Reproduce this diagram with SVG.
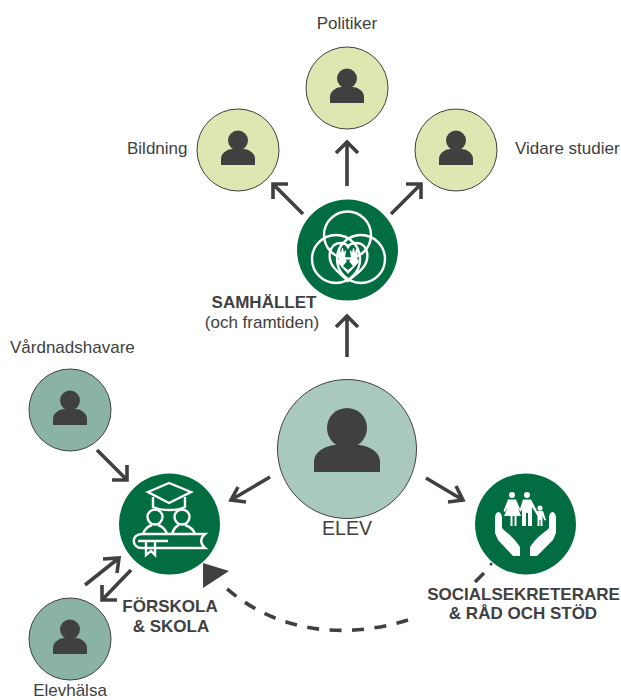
<svg xmlns="http://www.w3.org/2000/svg" width="621" height="700" viewBox="0 0 621 700">
<defs>
<g id="person"><circle cx="0" cy="-9.500" r="10"/><path d="M-17 15 V9 C-17 2 -9 -1 -6 -1 H6 C9 -1 17 2 17 9 V15 Z"/></g>
<g id="bigperson"><circle cx="0" cy="-17" r="20"/><path d="M-33 27 V17 C-33 5 -18 0 -11 0 H11 C18 0 33 5 33 17 V27 Z"/></g>
</defs>
<style>
text{font-family:"Liberation Sans",Arial,sans-serif;fill:#404040}
.t{font-size:17px}
.b{font-size:17px;font-weight:bold}
.arrow{fill:none;stroke:#404040;stroke-width:3.6}
.w{fill:none;stroke:#fff;stroke-width:2.4}
.wf{fill:#fff}
.g{fill:#026d41}
.lime{fill:#dde7b2;stroke:#404040;stroke-width:1}
.teal{fill:#8ab3a4;stroke:#404040;stroke-width:1}
.p{fill:#404040}
</style>
<g id="connectors">
<path class="arrow" d="M347 357V316M336 327L347 316L358 327"/>
<path class="arrow" d="M347 186V142M336 153L347 142L358 153"/>
<path class="arrow" d="M303 214L273 184M273 199V184H288"/>
<path class="arrow" d="M391 214L421 184M406 184H421V199"/>
<path class="arrow" d="M270 477L231 500M238 487L231 500L246 502"/>
<path class="arrow" d="M426 478L463 500M448 502L463 500L456 486"/>
<path class="arrow" d="M97 450L127 480M112 480H127V465"/>
<path class="arrow" d="M85 585L119 558M103 559L119 558L117 573"/>
<path class="arrow" d="M131 570L102 600M102 585V600H117"/>
<path fill="none" stroke="#404040" stroke-width="3.600" stroke-dasharray="12 10.500" d="M408 620C350 638 280 636 225 587"/>
<path fill="none" stroke="#404040" stroke-width="3.600" d="M475 582L484 573"/>
<circle cx="491" cy="564" r="1.500" fill="#404040"/>
<path d="M203 563L229 571L203 588Z" fill="#404040"/>
</g>
<g id="politiker"><circle class="lime" cx="347" cy="88" r="41"/><use href="#person" class="p" x="347" y="88"/><text class="t" x="347" y="29" text-anchor="middle">Politiker</text></g>
<g id="bildning"><circle class="lime" cx="238" cy="150" r="41"/><use href="#person" class="p" x="238" y="150"/><text class="t" x="127" y="154">Bildning</text></g>
<g id="vidare"><circle class="lime" cx="456" cy="150" r="41"/><use href="#person" class="p" x="456" y="150"/><text class="t" x="515" y="154">Vidare studier</text></g>
<g id="samhallet"><circle class="g" cx="347.500" cy="250" r="50.500"/>
<circle class="w" cx="347.500" cy="235" r="23.500"/><circle class="w" cx="336" cy="259" r="24"/><circle class="w" cx="361" cy="259" r="24"/>
<path class="w" d="M348 281L336 270C326 260 328 243 341 243C345 243 347 245 348 247C349 245 352 243 356 243C369 243 371 260 361 270Z" stroke-width="2"/>
<path class="wf" d="M337 262L339 258L338 250L340 249L341 253L342 248L343 248L344 253L345 250L346 251L345 258L347 262L349 262L351 258L350 251L351 250L352 253L353 248L354 248L355 253L356 249L358 250L357 258L359 262L348 274Z"/>
<path class="g" d="M343 266L348 260L353 266L348 270Z"/>
<text class="b" x="264" y="308" text-anchor="middle">SAMHÄLLET</text><text class="t" x="262" y="328" text-anchor="middle">(och framtiden)</text></g>
<g id="elev"><circle cx="347" cy="449" r="69.500" fill="#a9c9bd" stroke="#404040" stroke-width="1"/><use href="#bigperson" class="p" x="347" y="445"/><text x="347" y="535" text-anchor="middle" font-size="19.500">ELEV</text></g>
<g id="vardnadshavare"><circle class="teal" cx="70" cy="410" r="41"/><use href="#person" class="p" x="70" y="410"/><text class="t" x="10" y="353">Vårdnadshavare</text></g>
<g id="elevhalsa"><circle class="teal" cx="70" cy="639" r="41"/><use href="#person" class="p" x="70" y="639"/><text class="t" x="70" y="696" text-anchor="middle">Elevhälsa</text></g>
<g id="forskola"><circle class="g" cx="169.500" cy="524" r="50.500"/>
<path class="w" d="M148 492L169 483L191 492L169 503Z"/><path class="w" d="M153 497V507C162 511 177 511 185 507V497"/>
<circle class="w" cx="155" cy="517" r="7.500"/><circle class="w" cx="182" cy="517" r="7.500"/>
<path class="w" d="M143 534C145 528 149 526 152 525M158 525C161 526 165 528 167 534M172 534C174 528 176 526 179 525M185 525C188 526 193 528 195 534"/>
<path class="w" d="M205 534H142C131 534 131 548 142 548H205C200 544 200 538 205 534ZM138 541H168M146 541V555L151 551L155 555V541"/>
<text class="b" x="170" y="612" text-anchor="middle">FÖRSKOLA</text><text class="b" x="171" y="632" text-anchor="middle">&amp; SKOLA</text></g>
<g id="social"><circle class="g" cx="525.500" cy="524" r="50.500"/>
<circle class="wf" cx="512" cy="495" r="3"/><circle class="wf" cx="527" cy="495" r="3"/><circle class="wf" cx="540" cy="508" r="2.600"/>
<path class="wf" d="M508 499.500H516L520 509L523 499.500H531L537 511H543L546 520L544.500 520.500L542.500 516V526H540.500V520H539.500V526H537.500V516L532 507V526H528V513H526V526H522V509L520.500 512L518 508L521 516H516.500V526H514.500V516H512.500V526H510.500V516H504L508 507L505 512L503.500 511Z"/>
<path class="wf" d="M495 518C495 510 502 510 502 518V528C505 532 512 535 520 547V556H513L498 540L495 533ZM556 518C556 510 549 510 549 518V528C546 532 538 535 530 547V556H537L553 540L556 533Z"/>
<text class="b" x="523.500" y="600" text-anchor="middle">SOCIALSEKRETERARE</text><text class="b" x="523" y="619" text-anchor="middle">&amp; RÅD OCH STÖD</text></g>
</svg>
